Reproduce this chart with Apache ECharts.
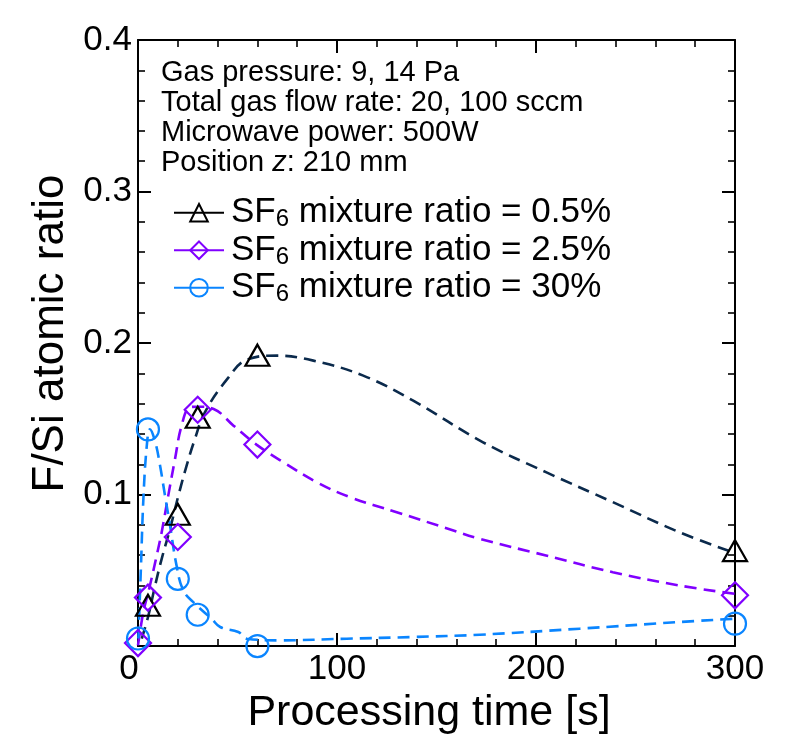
<!DOCTYPE html>
<html>
<head>
<meta charset="utf-8">
<script src="https://cdn.jsdelivr.net/npm/echarts@6/dist/echarts.min.js"></script>
<style>html,body{margin:0;padding:0;background:#fff;}#c{width:804px;height:740px;}</style>
</head>
<body>
<div id="c"></div>
<script>
// ---- data ----
const xTicks = [0, 100, 200, 300];
const yTicks = [0.1, 0.2, 0.3, 0.4];

const seriesNames = ['SF6 mixture ratio = 0.5%', 'SF6 mixture ratio = 2.5%', 'SF6 mixture ratio = 30%'];
const legendLabels = ['0.5%', '2.5%', '30%'];

const t05 = [5, 20, 30, 60, 300];
const y05 = [0.027, 0.087, 0.151, 0.192, 0.063];

const t25 = [0, 5, 20, 30, 60, 300];
const y25 = [0.002, 0.032, 0.072, 0.156, 0.133, 0.0335];

const t30 = [0, 5, 20, 30, 60, 300];
const y30 = [0.005, 0.143, 0.0444, 0.0207, 0.0, 0.0148];

// dashed fitted curves
const fit05x = [1.9, 5.2, 8.6, 11.9, 16.1, 20.3, 24.4, 28.6, 33.6, 44.7, 54.7, 69.8, 88.1, 113.2, 138.3, 173.4, 205, 238.6, 272, 298.7];
const fit05y = [0.005, 0.020, 0.040, 0.0576, 0.0774, 0.0993, 0.119, 0.1367, 0.1543, 0.176, 0.189, 0.1917, 0.1884, 0.1785, 0.162, 0.1345, 0.1148, 0.095, 0.0752, 0.062];

const fit25x = [0, 2.7, 6, 9.4, 11.9, 15.2, 18.6, 21.9, 26.1, 30, 38, 48, 59.7, 73, 89.8, 106.5, 130, 155, 171.7, 205, 238.6, 272, 300];
const fit25y = [0.0005, 0.0225, 0.040, 0.0598, 0.0752, 0.0993, 0.1235, 0.1455, 0.1576, 0.158, 0.1565, 0.1455, 0.1328, 0.1214, 0.1082, 0.0983, 0.0884, 0.0778, 0.0708, 0.0598, 0.0488, 0.040, 0.0345];

const fit30x = [0.2, 1.5, 2.7, 4.4, 6, 8.6, 11.1, 13.6, 16.1, 19.4, 22.8, 28.6, 37, 41.3, 50.4, 54.7, 71.4, 104.9, 138.3, 171.7, 222, 272, 298.7];
const fit30y = [0.005, 0.053, 0.097, 0.132, 0.143, 0.135, 0.119, 0.099, 0.0796, 0.053, 0.0367, 0.028, 0.018, 0.0126, 0.0093, 0.0049, 0.0038, 0.0049, 0.006, 0.0075, 0.0115, 0.0159, 0.018];

const noteLines = ['Gas pressure: 9, 14 Pa', 'Total gas flow rate: 20, 100 sccm', 'Microwave power: 500W', 'Position {i|z}: 210 mm'];

// ---- chart ----
const FONT = 'Liberation Sans, Arial, sans-serif';
const zip = (a, b) => a.map((v, i) => [v, b[i]]);

const markColors = ['#000000', '#8000ff', '#0a85ff'];
const fitColors = ['#0b2a4c', '#8000ff', '#0a85ff'];
const symbols = ['triangle', 'diamond', 'circle'];
const symSizes = [[24, 21], [26, 26], [22, 22]];
const markData = [zip(t05, y05), zip(t25, y25), zip(t30, y30)];
const fitData = [zip(fit05x, fit05y), zip(fit25x, fit25y), zip(fit30x, fit30y)];

const axisLine = { show: true, onZero: false, lineStyle: { color: '#000', width: 2 } };
const tick = { show: true, inside: true, length: 13, lineStyle: { color: '#000', width: 2 } };
const minor = { show: true, splitNumber: 5, length: 7, lineStyle: { color: '#000', width: 1.6 } };

const series = [];
for (let k = 0; k < 3; k++) {
  series.push({
    name: 'fit' + k, type: 'line', data: fitData[k], smooth: 0.4,
    showSymbol: false, silent: true, z: 2,
    lineStyle: { color: fitColors[k], width: 2.6, type: [12, 7] }
  });
}
for (let k = 0; k < 3; k++) {
  series.push({
    name: seriesNames[k], type: 'line', data: markData[k], z: 3,
    symbol: symbols[k], symbolSize: symSizes[k], showAllSymbol: true,
    itemStyle: { color: 'rgba(0,0,0,0)', borderColor: markColors[k], borderWidth: 2.2 },
    lineStyle: { color: markColors[k], width: 2, opacity: 0 }
  });
}

const chart = echarts.init(document.getElementById('c'), null, { renderer: 'canvas' });
chart.setOption({
  animation: false,
  backgroundColor: '#fff',
  textStyle: { fontFamily: FONT },
  grid: { left: 138, right: 69, top: 40, bottom: 93, containLabel: false },
  xAxis: [{
    type: 'value', min: 0, max: 300, interval: 100, position: 'bottom',
    axisLine, axisTick: tick, minorTick: minor, splitLine: { show: false },
    axisLabel: {
      color: '#000', fontSize: 35, margin: 6, fontFamily: FONT,
      formatter: v => (v === 0 ? '{z|0}' : String(v)),
      rich: { z: { fontSize: 35, fontFamily: FONT, color: '#000', padding: [0, 18, 0, 0] } }
    },
    name: 'Processing time [s]', nameLocation: 'middle', nameGap: 40,
    nameTextStyle: { color: '#000', fontSize: 43, fontFamily: FONT, padding: [0, 15, 0, 0] }
  }, {
    type: 'value', min: 0, max: 300, interval: 100, position: 'top',
    axisLine, axisTick: tick, minorTick: minor, splitLine: { show: false },
    axisLabel: { show: false }
  }],
  yAxis: [{
    type: 'value', min: 0, max: 0.4, interval: 0.1, position: 'left',
    axisLine, axisTick: tick, minorTick: minor, splitLine: { show: false },
    axisLabel: {
      color: '#000', fontSize: 35, margin: 6, fontFamily: FONT,
      formatter: v => (yTicks.some(t => Math.abs(t - v) < 1e-9) ? v.toFixed(1) : '')
    },
    name: 'F/Si atomic ratio', nameLocation: 'middle', nameGap: 59,
    nameTextStyle: { color: '#000', fontSize: 44, fontFamily: FONT, padding: [0, 0, 0, 19] }
  }, {
    type: 'value', min: 0, max: 0.4, interval: 0.1, position: 'right',
    axisLine, axisTick: tick, minorTick: minor, splitLine: { show: false },
    axisLabel: { show: false }
  }],
  legend: {
    data: seriesNames,
    orient: 'vertical', left: 168, top: 189,
    itemWidth: 50, itemHeight: 22, itemGap: 0,
    lineStyle: { type: 'solid', opacity: 1, width: 2 },
    formatter: name => 'SF{s|6} mixture ratio = ' + legendLabels[seriesNames.indexOf(name)],
    textStyle: {
      color: '#000', fontSize: 35, fontFamily: FONT, lineHeight: 37.5, padding: [0, 0, 0, 2],
      rich: { s: { fontSize: 24, fontFamily: FONT, color: '#000', verticalAlign: 'bottom', lineHeight: 16 } }
    }
  },
  graphic: noteLines.map((txt, i) => ({
    type: 'text', left: 161, top: 58 + i * 30, silent: true,
    style: {
      text: txt, fill: '#000', font: '29px ' + FONT,
      rich: { i: { fontStyle: 'italic', fontSize: 29, fontFamily: FONT, fill: '#000' } }
    }
  })),
  series
});
</script>
</body>
</html>
